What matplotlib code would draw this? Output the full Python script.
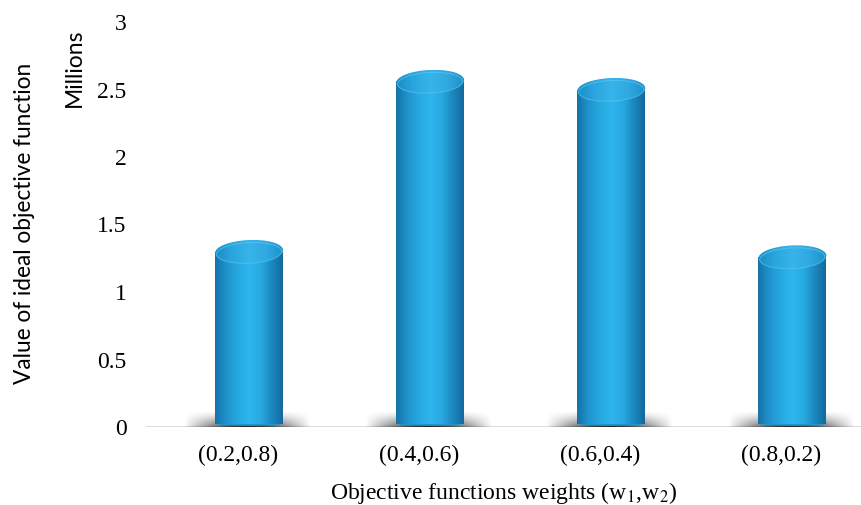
import numpy as np
import matplotlib
matplotlib.use("Agg")
import matplotlib.pyplot as plt
from matplotlib.patches import Ellipse, Polygon
from matplotlib.colors import LinearSegmentedColormap

# Ideal objective value (millions) for each weight pair
weights = ["(0.2,0.8)", "(0.4,0.6)", "(0.6,0.4)", "(0.8,0.2)"]
values = [1.30, 2.56, 2.50, 1.26]
yticks = [0, 0.5, 1, 1.5, 2, 2.5, 3]
ytick_labels = ["0", "0.5", "1", "1.5", "2", "2.5", "3"]

serif = "Liberation Serif"
sans = "Lato"
plt.rcParams["mathtext.fontset"] = "stix"

fig = plt.figure(figsize=(8.61, 5.05), dpi=100)
ax = fig.add_axes([146 / 861, 78 / 505, 715 / 861, 405 / 505])
ax.set_xlim(-0.508, 3.44)
ax.set_ylim(0, 3)

# cylinder geometry (data units)
bar_w = 0.376
shift = 0.061
ell_h = 0.17

side_cmap = LinearSegmentedColormap.from_list(
    "side", ["#1572a6", "#1f93cc", "#27a8e0", "#2eb6ee", "#28a9e1", "#1b86bd", "#12679a"])
top_cmap = LinearSegmentedColormap.from_list(
    "top", ["#1b8cc4", "#2aa6de", "#37b4ea", "#2fa9e0", "#1e8fc6"])

grad = np.linspace(0, 1, 256).reshape(1, -1)

for i, v in enumerate(values):
    cx = i + shift
    x0, x1 = cx - bar_w / 2, cx + bar_w / 2

    # soft shadow on the floor
    sx = np.linspace(-1, 1, 200)
    sy = np.linspace(0, 1, 40)
    X, Y = np.meshgrid(sx, sy)
    a = np.clip(1 - np.abs(X) ** 1.5, 0, 1) * np.clip(1 - Y * 1.1, 0, 1) ** 1.3
    rgba = np.zeros((40, 200, 4))
    rgba[..., 3] = a * 0.85
    ax.imshow(rgba, extent=[x0 - 0.17, x1 + 0.15, 0.0, 0.13], origin="lower",
              aspect="auto", zorder=2, interpolation="bilinear")

    # side of the cylinder
    body = Polygon([(x0, ell_h * 0.15), (x0, v), (x1, v), (x1, ell_h * 0.15)],
                   closed=True, facecolor="none", edgecolor="none")
    ax.add_patch(body)
    base = Ellipse((cx, ell_h * 0.15), bar_w, ell_h * 0.2, facecolor="#1f95cd",
                   edgecolor="none", zorder=3)
    ax.add_patch(base)
    im = ax.imshow(grad, extent=[x0, x1, ell_h * 0.15, v], cmap=side_cmap,
                   aspect="auto", zorder=3, interpolation="bilinear")
    im.set_clip_path(body)

    # top cap
    cap = Ellipse((cx, v), bar_w, ell_h, angle=4, facecolor="none", edgecolor="none")
    ax.add_patch(cap)
    ci = ax.imshow(grad, extent=[x0, x1, v - ell_h / 2, v + ell_h / 2], cmap=top_cmap,
                   aspect="auto", zorder=4, interpolation="bilinear")
    ci.set_clip_path(cap)
    ax.add_patch(Ellipse((cx, v - 0.01), bar_w * 0.96, ell_h * 0.9, angle=4,
                         facecolor="none", edgecolor="#5cc8f2", lw=0.8, alpha=0.6, zorder=4))

# floor line
ax.axhline(0, color="#d9d9d9", lw=2, zorder=1)

for s in ax.spines.values():
    s.set_visible(False)
ax.tick_params(length=0)
ax.set_xticks(range(len(weights)))
ax.set_xticklabels(weights, fontfamily=serif, fontsize=17)
ax.set_yticks(yticks)
ax.set_yticklabels(ytick_labels, fontfamily=serif, fontsize=17)
ax.tick_params(axis="y", pad=14)
ax.tick_params(axis="x", pad=13)

ax.set_xlabel("Objective functions weights (w$_1$,w$_2$)", fontfamily=serif,
              fontsize=17, labelpad=10)
fig.text(25 / 861, 1 - 223 / 505, "Value of ideal objective function", rotation=90,
         ha="center", va="center", fontfamily=sans, fontsize=16.3)
fig.text(74 / 861, 1 - 68 / 505, "Millions", rotation=90, ha="center", va="center",
         fontfamily=sans, fontsize=16.5)

fig.savefig("out.png", dpi=100)
